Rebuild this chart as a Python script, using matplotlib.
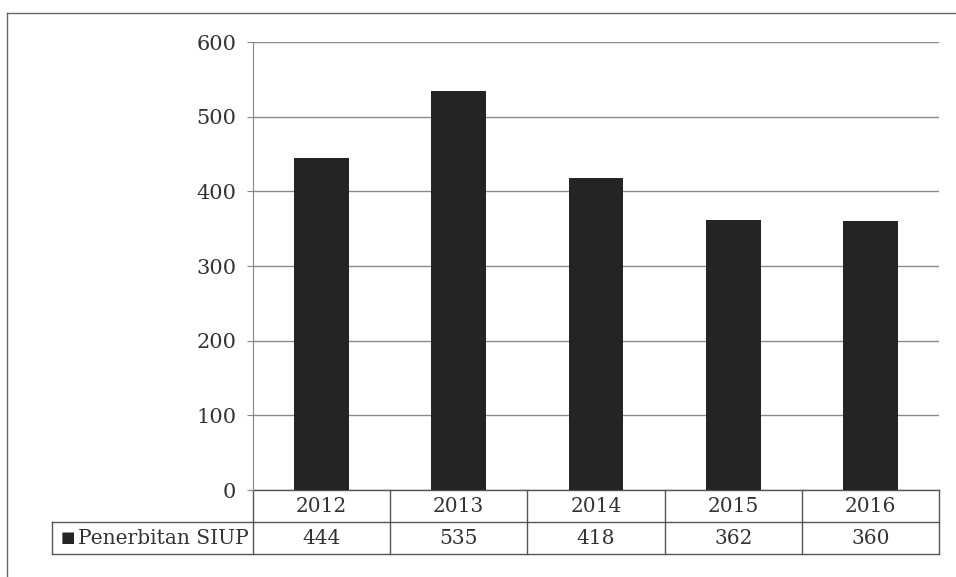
import matplotlib.pyplot as plt
import matplotlib.transforms as mtransforms

years = ['2012', '2013', '2014', '2015', '2016']
siup = [444, 535, 418, 362, 360]
series_name = 'Penerbitan SIUP'
yticks = [0, 100, 200, 300, 400, 500, 600]

W, H = 956, 577
plt.rcParams['font.family'] = ['DejaVu Serif']
fs = 14.5

fig = plt.figure(figsize=(W / 100, H / 100), dpi=100)
# axes box in pixels: x 253..939, y 42..490
ax = fig.add_axes([253 / W, 1 - 490 / H, (939 - 253) / W, (490 - 42) / H])

x = list(range(len(years)))
ax.bar(x, siup, width=0.4, color='#242424', zorder=3)

ax.set_xlim(-0.5, len(years) - 0.5)
ax.set_ylim(0, 600)
ax.set_yticks(yticks)
ax.set_yticklabels([str(t) for t in yticks], fontsize=fs + 0.5, color='#333333')
ax.tick_params(axis='y', length=4, color='#888888', pad=8)
ax.set_xticks([])
ax.grid(axis='y', color='#8a8a8a', linewidth=1.0, zorder=0)
for s in ['top', 'right', 'bottom']:
    ax.spines[s].set_visible(False)
ax.spines['left'].set_color('#888888')

# data table under the plot (x in data units, y in axes units)
tr = mtransforms.blended_transform_factory(ax.transData, ax.transAxes)
row_h = 32 / 448
col_px = (939 - 253) / len(years)
lc = '#555555'
leg_left = -0.5 - 201 / col_px
kw = dict(transform=tr, clip_on=False, color=lc, linewidth=1.0)

# horizontal lines
ax.plot([-0.5, len(years) - 0.5], [0, 0], **kw)
ax.plot([leg_left, len(years) - 0.5], [-row_h, -row_h], **kw)
ax.plot([leg_left, len(years) - 0.5], [-2 * row_h, -2 * row_h], **kw)
# vertical lines
for i in range(len(years) + 1):
    ax.plot([i - 0.5, i - 0.5], [0, -2 * row_h], **kw)
ax.plot([leg_left, leg_left], [-row_h, -2 * row_h], **kw)

for i, (yr, v) in enumerate(zip(years, siup)):
    ax.text(i, -0.5 * row_h, yr, transform=tr, ha='center', va='center',
            fontsize=fs, color='#333333')
    ax.text(i, -1.5 * row_h, str(v), transform=tr, ha='center', va='center',
            fontsize=fs, color='#333333')

ax.text(-0.5 - 0.03, -1.5 * row_h, series_name, transform=tr,
        ha='right', va='center', fontsize=fs, color='#333333')
ax.text(-0.5 - (253 - 75) / col_px, -1.5 * row_h, '\u25a0', transform=tr,
        ha='right', va='center', fontsize=11, color='#242424')

# outer frame (left and top edges of the scanned chart area)
fig.add_artist(plt.Line2D([7 / W, 7 / W], [0, 1 - 13 / H], color='#666666',
                          linewidth=1.0))
fig.add_artist(plt.Line2D([7 / W, 1], [1 - 13 / H, 1 - 13 / H], color='#666666',
                          linewidth=1.0))

fig.savefig('out.png', dpi=100)
